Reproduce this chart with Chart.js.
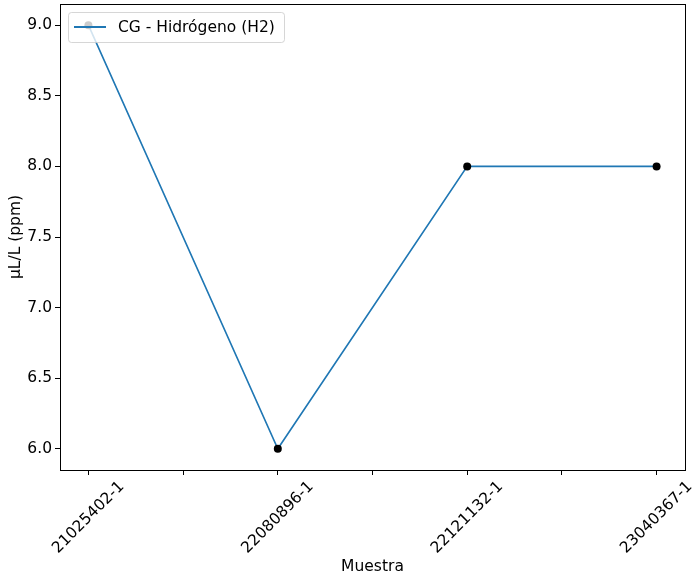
<!DOCTYPE html>
<html>
<head>
<meta charset="utf-8">
<script src="https://cdn.jsdelivr.net/npm/chart.js@4"></script>
<style>
  body { margin: 0; background: #fff; }
  #wrap { width: 693px; height: 582px; }
</style>
</head>
<body>
<div id="wrap"><canvas id="chart" width="693" height="582"></canvas></div>
<script>
// Data
const muestras = ["21025402-1", "22080896-1", "22121132-1", "23040367-1"];
const hidrogeno = [9, 6, 8, 8];
const yTicks = [6.0, 6.5, 7.0, 7.5, 8.0, 8.5, 9.0];
const xTicks = [0, 0.5, 1, 1.5, 2, 2.5, 3];
const seriesLabel = "CG - Hidrógeno (H2)";

const FONT = "'DejaVu Sans', sans-serif";
const FS = 15.5;

// top/right spines, rotated category labels, legend box
const extras = {
  id: "extras",
  afterDraw(chart) {
    const ctx = chart.ctx;
    const a = chart.chartArea;
    const xs = chart.scales.x;
    ctx.save();
    ctx.strokeStyle = "#000";
    ctx.lineWidth = 1;
    ctx.strokeRect(Math.round(a.left) + 0.5, Math.round(a.top) + 0.5,
      Math.round(a.right - a.left), Math.round(a.bottom - a.top));

    // x labels, rotated 45 deg and centred under their tick
    ctx.font = FS + "px " + FONT;
    ctx.fillStyle = "#000";
    ctx.textAlign = "center";
    ctx.textBaseline = "middle";
    muestras.forEach((m, i) => {
      const px = xs.getPixelForValue(i);
      ctx.save();
      ctx.translate(px, a.bottom + 47.5);
      ctx.rotate(-Math.PI / 4);
      ctx.fillText(m, 0, 0);
      ctx.restore();
    });

    // legend
    const lx = 68, ly = 12, lw = 216, lh = 30, r = 3;
    ctx.beginPath();
    ctx.roundRect(lx + 0.5, ly + 0.5, lw, lh, r);
    ctx.fillStyle = "rgba(255,255,255,0.8)";
    ctx.fill();
    ctx.strokeStyle = "rgba(204,204,204,0.8)";
    ctx.stroke();
    ctx.beginPath();
    ctx.moveTo(74, 27);
    ctx.lineTo(106, 27);
    ctx.strokeStyle = "#1f77b4";
    ctx.lineWidth = 2;
    ctx.stroke();
    ctx.fillStyle = "#000";
    ctx.textAlign = "left";
    ctx.fillText(seriesLabel, 118, 28);
    ctx.restore();
  }
};

new Chart(document.getElementById("chart"), {
  type: "line",
  data: {
    datasets: [{
      label: seriesLabel,
      data: hidrogeno.map((v, i) => ({ x: i, y: v })),
      borderColor: "#1f77b4",
      borderWidth: 1.6,
      pointRadius: 4,
      pointBackgroundColor: "#000",
      pointBorderColor: "#000",
      pointBorderWidth: 0,
      tension: 0,
      fill: false
    }]
  },
  options: {
    responsive: false,
    animation: false,
    layout: { padding: { left: 0, top: 4, right: 8, bottom: 0 } },
    plugins: { legend: { display: false }, tooltip: { enabled: false } },
    scales: {
      x: {
        type: "linear",
        min: -0.15,
        max: 3.15,
        afterBuildTicks: s => { s.ticks = xTicks.map(v => ({ value: v })); },
        afterFit: s => { s.height = 112; s.paddingLeft = 0; s.paddingRight = 0; },
        grid: { drawOnChartArea: false, tickLength: 5, color: "#000", tickWidth: 1 },
        border: { color: "#000", width: 1 },
        ticks: { display: false },
        title: { display: true, text: "Muestra", color: "#000",
          font: { family: FONT, size: FS }, padding: { top: 0, bottom: 6 } }
      },
      y: {
        min: 5.85,
        max: 9.15,
        afterBuildTicks: s => { s.ticks = yTicks.map(v => ({ value: v })); },
        afterFit: s => { s.width = 60; s.paddingTop = 0; s.paddingBottom = 0; },
        grid: { drawOnChartArea: false, tickLength: 5, color: "#000", tickWidth: 1 },
        border: { color: "#000", width: 1 },
        ticks: { color: "#000", padding: 3, font: { family: FONT, size: FS },
          callback: v => v.toFixed(1) },
        title: { display: true, text: "µL/L (ppm)", color: "#000",
          font: { family: FONT, size: FS }, padding: { top: 7, bottom: 0 } }
      }
    }
  },
  plugins: [extras]
});
</script>
</body>
</html>
